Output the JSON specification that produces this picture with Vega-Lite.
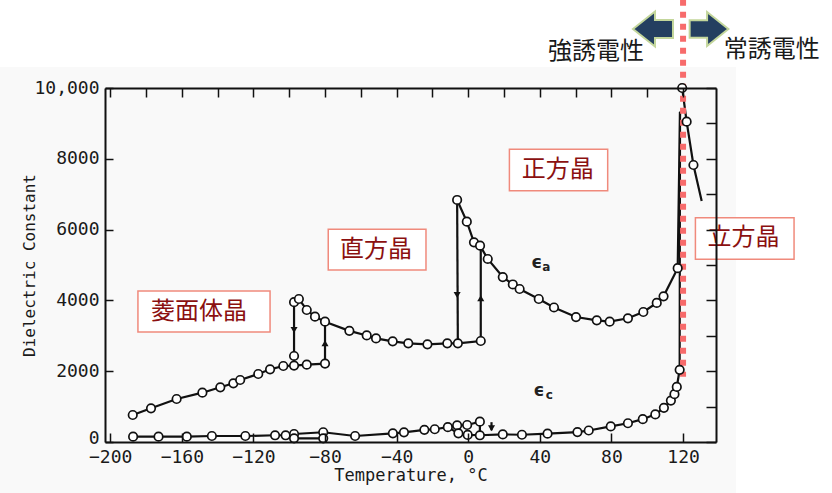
{
  "$schema": "https://vega.github.io/schema/vega-lite/v6.json",
  "width": 611,
  "height": 354,
  "autosize": "none",
  "padding": {"left": 105, "top": 88, "right": 116, "bottom": 51},
  "background": "white",
  "config": {"view": {"stroke": null}},
  "datasets": {
    "curves": [
      {"s":"a_rh","i":1,"t":-187.4,"v":763,"m":1},
      {"s":"a_rh","i":2,"t":-177.2,"v":952,"m":1},
      {"s":"a_rh","i":3,"t":-162.9,"v":1215,"m":1},
      {"s":"a_rh","i":4,"t":-148.5,"v":1393,"m":1},
      {"s":"a_rh","i":5,"t":-138.5,"v":1545,"m":1},
      {"s":"a_rh","i":6,"t":-131.2,"v":1658,"m":1},
      {"s":"a_rh","i":7,"t":-127.4,"v":1751,"m":1},
      {"s":"a_rh","i":8,"t":-117.3,"v":1921,"m":1},
      {"s":"a_rh","i":9,"t":-110.7,"v":2053,"m":1},
      {"s":"a_rh","i":10,"t":-103.3,"v":2147,"m":1},
      {"s":"a_rh","i":11,"t":-97.3,"v":2160,"m":1},
      {"s":"a_rh","i":12,"t":-90.2,"v":2185,"m":1},
      {"s":"a_rh","i":13,"t":-80,"v":2215,"m":1},
      {"s":"a_rh","i":14,"t":-80,"v":3399,"m":0},
      {"s":"a_dn1","i":1,"t":-97.3,"v":3950,"m":0},
      {"s":"a_dn1","i":2,"t":-97.3,"v":2430,"m":1},
      {"s":"a_dn1","i":3,"t":-97.3,"v":2160,"m":0},
      {"s":"a_or","i":1,"t":-97.3,"v":3950,"m":1},
      {"s":"a_or","i":2,"t":-94.6,"v":4040,"m":1},
      {"s":"a_or","i":3,"t":-90.2,"v":3729,"m":1},
      {"s":"a_or","i":4,"t":-85.6,"v":3540,"m":1},
      {"s":"a_or","i":5,"t":-80,"v":3399,"m":1},
      {"s":"a_or","i":6,"t":-66.4,"v":3140,"m":1},
      {"s":"a_or","i":7,"t":-56.7,"v":3010,"m":1},
      {"s":"a_or","i":8,"t":-51.5,"v":2925,"m":1},
      {"s":"a_or","i":9,"t":-42.2,"v":2845,"m":1},
      {"s":"a_or","i":10,"t":-33.5,"v":2788,"m":1},
      {"s":"a_or","i":11,"t":-22.8,"v":2759,"m":1},
      {"s":"a_or","i":12,"t":-11.7,"v":2788,"m":1},
      {"s":"a_or","i":13,"t":-5.8,"v":2788,"m":1},
      {"s":"a_or","i":14,"t":7.0,"v":2853,"m":1},
      {"s":"a_or","i":15,"t":7.0,"v":5546,"m":0},
      {"s":"a_dn2","i":1,"t":-6.2,"v":6837,"m":0},
      {"s":"a_dn2","i":2,"t":-5.8,"v":2788,"m":0},
      {"s":"a_te","i":1,"t":-6.2,"v":6837,"m":1},
      {"s":"a_te","i":2,"t":-0.8,"v":6224,"m":1},
      {"s":"a_te","i":3,"t":3.2,"v":5641,"m":1},
      {"s":"a_te","i":4,"t":6.6,"v":5546,"m":1},
      {"s":"a_te","i":5,"t":10.9,"v":5170,"m":1},
      {"s":"a_te","i":6,"t":19.3,"v":4660,"m":1},
      {"s":"a_te","i":7,"t":24.9,"v":4450,"m":1},
      {"s":"a_te","i":8,"t":28.7,"v":4322,"m":1},
      {"s":"a_te","i":9,"t":39.4,"v":4040,"m":1},
      {"s":"a_te","i":10,"t":47.9,"v":3800,"m":1},
      {"s":"a_te","i":11,"t":60.2,"v":3530,"m":1},
      {"s":"a_te","i":12,"t":71.8,"v":3437,"m":1},
      {"s":"a_te","i":13,"t":79,"v":3399,"m":1},
      {"s":"a_te","i":14,"t":89.2,"v":3494,"m":1},
      {"s":"a_te","i":15,"t":97.8,"v":3672,"m":1},
      {"s":"a_te","i":16,"t":105.3,"v":3930,"m":1},
      {"s":"a_te","i":17,"t":109.1,"v":4115,"m":1},
      {"s":"a_te","i":18,"t":117,"v":4910,"m":1},
      {"s":"a_te","i":19,"t":118.3,"v":9330,"m":0},
      {"s":"cub","i":1,"t":119.5,"v":10000,"m":1},
      {"s":"cub","i":2,"t":122,"v":9048,"m":1},
      {"s":"cub","i":3,"t":125.8,"v":7825,"m":1},
      {"s":"cub","i":4,"t":130.4,"v":6808,"m":0},
      {"s":"c_main","i":1,"t":-187.2,"v":150,"m":1},
      {"s":"c_main","i":2,"t":-173,"v":150,"m":1},
      {"s":"c_main","i":3,"t":-157.2,"v":150,"m":1},
      {"s":"c_main","i":4,"t":-143.2,"v":170,"m":1},
      {"s":"c_main","i":5,"t":-124.5,"v":170,"m":1},
      {"s":"c_main","i":6,"t":-107.9,"v":190,"m":1},
      {"s":"c_main","i":7,"t":-102,"v":190,"m":1},
      {"s":"c_main","i":8,"t":-97.3,"v":226,"m":1},
      {"s":"c_main","i":9,"t":-81,"v":275,"m":1},
      {"s":"c_main","i":10,"t":-63.2,"v":170,"m":1},
      {"s":"c_main","i":11,"t":-42.1,"v":245,"m":1},
      {"s":"c_main","i":12,"t":-35.9,"v":273,"m":1},
      {"s":"c_main","i":13,"t":-24.5,"v":345,"m":1},
      {"s":"c_main","i":14,"t":-18.7,"v":360,"m":1},
      {"s":"c_main","i":15,"t":-11.4,"v":420,"m":1},
      {"s":"c_main","i":16,"t":-6.2,"v":470,"m":1},
      {"s":"c_main","i":17,"t":-0.6,"v":480,"m":1},
      {"s":"c_main","i":18,"t":6.5,"v":575,"m":1},
      {"s":"c_main","i":19,"t":6.5,"v":190,"m":0},
      {"s":"c_loop","i":1,"t":-97.3,"v":226,"m":0},
      {"s":"c_loop","i":2,"t":-97.3,"v":105,"m":1},
      {"s":"c_loop","i":3,"t":-81,"v":105,"m":1},
      {"s":"c_loop","i":4,"t":-81,"v":275,"m":0},
      {"s":"c_low","i":1,"t":-11.4,"v":420,"m":0},
      {"s":"c_low","i":2,"t":-5.5,"v":245,"m":1},
      {"s":"c_low","i":3,"t":-0.3,"v":200,"m":1},
      {"s":"c_low","i":4,"t":6.5,"v":190,"m":1},
      {"s":"c_low","i":5,"t":19.3,"v":215,"m":1},
      {"s":"c_low","i":6,"t":30,"v":205,"m":1},
      {"s":"c_low","i":7,"t":44.3,"v":235,"m":1},
      {"s":"c_low","i":8,"t":61,"v":280,"m":1},
      {"s":"c_low","i":9,"t":67.3,"v":325,"m":1},
      {"s":"c_low","i":10,"t":79.6,"v":440,"m":1},
      {"s":"c_low","i":11,"t":89.2,"v":530,"m":1},
      {"s":"c_low","i":12,"t":97.5,"v":645,"m":1},
      {"s":"c_low","i":13,"t":104.5,"v":780,"m":1},
      {"s":"c_low","i":14,"t":109.3,"v":965,"m":1},
      {"s":"c_low","i":15,"t":113.2,"v":1170,"m":1},
      {"s":"c_low","i":16,"t":115.2,"v":1350,"m":1},
      {"s":"c_low","i":17,"t":116.5,"v":1555,"m":1},
      {"s":"c_low","i":18,"t":118.1,"v":2040,"m":1},
      {"s":"c_low","i":19,"t":118.3,"v":9330,"m":0},
      {"s":"c_arr","i":1,"t":13,"v":560,"m":0},
      {"s":"c_arr","i":2,"t":13,"v":330,"m":0}
    ],
    "heads": [
      {"t":-97.3,"v":3164,"dir":"down"},
      {"t":-80,"v":2788,"dir":"up"},
      {"t":-6.2,"v":4153,"dir":"down"},
      {"t":7.0,"v":4059,"dir":"up"},
      {"t":13,"v":390,"dir":"down"}
    ],
    "boxes": [
      {"label":"菱面体晶","x1":-184.5,"x2":-110.7,"y1":3108,"y2":4266,"tx":-150.4,"ty":3673},
      {"label":"直方晶","x1":-78.2,"x2":-23.6,"y1":4859,"y2":6009,"tx":-51.5,"ty":5424},
      {"label":"正方晶","x1":23.0,"x2":77.9,"y1":7099,"y2":8269,"tx":50.0,"ty":7684},
      {"label":"立方晶","x1":126.9,"x2":182.0,"y1":5161,"y2":6337,"tx":153.7,"ty":5749}
    ],
    "eps": [
      {"txt":"ϵ","t":38.3,"v":5043,"k":"big"},
      {"txt":"a","t":43.6,"v":4930,"k":"sub"},
      {"txt":"ϵ","t":39.5,"v":1432,"k":"big"},
      {"txt":"c","t":45.3,"v":1328,"k":"sub"}
    ],
    "top": [
      {"txt":"強誘電性","t":71.3,"v":11003},
      {"txt":"常誘電性","t":169.6,"v":11060}
    ]
  },
  "resolve": {"axis": {"x": "independent", "y": "independent"}},
  "layer": [
    {
      "layer": [
        {
          "data": {"values": [{"x1": -262, "x2": 149.6, "y1": -1441, "y2": 10594}]},
          "mark": {"type": "rect", "fill": "#f9f9f9", "stroke": null},
          "encoding": {
            "x": {"field": "x1", "type": "quantitative", "scale": {"domain": [-202.9, 138.4], "nice": false, "zero": false},
              "axis": {"values": [-200,-180,-160,-140,-120,-100,-80,-60,-40,-20,0,20,40,60,80,100,120],
                "labelExpr": "datum.value % 40 == 0 ? format(datum.value, 'd') : ''",
                "tickSize": -9, "tickWidth": 1.5, "tickColor": "#111", "domainColor": "#111", "domainWidth": 2,
                "labelFont": "DejaVu Sans Mono", "labelFontSize": 18, "labelColor": "#1a1a1a", "labelPadding": 15,
                "labelFlush": false, "labelOverlap": false, "grid": false,
                "title": "Temperature, °C", "titleFont": "DejaVu Sans Mono", "titleFontSize": 17, "titleFontWeight": "normal",
                "titleColor": "#1a1a1a", "titlePadding": 1, "zindex": 1}},
            "x2": {"field": "x2"},
            "y": {"field": "y1", "type": "quantitative", "scale": {"domain": [0, 10000], "nice": false, "zero": false},
              "axis": {"values": [0,1000,2000,3000,4000,5000,6000,7000,8000,9000,10000],
                "labelExpr": "datum.value % 2000 == 0 ? (datum.value == 10000 ? '10,000' : format(datum.value, 'd')) : ''",
                "labelOffset": {"condition": {"test": "datum.value == 0", "value": -4}, "value": 0},
                "tickSize": -8, "tickWidth": 1.5, "tickColor": "#111", "domainColor": "#111", "domainWidth": 2,
                "labelFont": "DejaVu Sans Mono", "labelFontSize": 18, "labelColor": "#1a1a1a", "labelPadding": 14,
                "labelFlush": false, "labelOverlap": false, "grid": false,
                "title": "Dielectric Constant", "titleFont": "DejaVu Sans Mono", "titleFontSize": 16, "titleFontWeight": "normal",
                "titleColor": "#1a1a1a", "titlePadding": -4, "zindex": 1}},
            "y2": {"field": "y2"}
          }
        },
        {
          "data": {"name": "curves"},
          "mark": {"type": "line", "color": "#111", "strokeWidth": 2.2},
          "encoding": {
            "x": {"field": "t", "type": "quantitative"},
            "y": {"field": "v", "type": "quantitative"},
            "detail": {"field": "s"},
            "order": {"field": "i", "type": "quantitative"}
          }
        },
        {
          "data": {"values": [{"t": 120, "v1": 12490, "v2": 1840}]},
          "mark": {"type": "rule", "color": "#f76b6b", "strokeWidth": 6, "strokeDash": [6, 6], "strokeCap": "butt"},
          "encoding": {
            "x": {"field": "t", "type": "quantitative"},
            "y": {"field": "v1", "type": "quantitative"},
            "y2": {"field": "v2"}
          }
        },
        {
          "data": {"name": "curves"},
          "transform": [{"filter": "datum.m == 1"}],
          "mark": {"type": "point", "shape": "circle", "filled": true, "fill": "white", "stroke": "#111", "strokeWidth": 1.7, "size": 72, "opacity": 1},
          "encoding": {
            "x": {"field": "t", "type": "quantitative"},
            "y": {"field": "v", "type": "quantitative"}
          }
        },
        {
          "data": {"name": "heads"},
          "mark": {"type": "point", "filled": true, "color": "#111", "size": 50, "opacity": 1},
          "encoding": {
            "x": {"field": "t", "type": "quantitative"},
            "y": {"field": "v", "type": "quantitative"},
            "shape": {"field": "dir", "type": "nominal", "scale": {"domain": ["down", "up"], "range": ["triangle-down", "triangle-up"]}, "legend": null}
          }
        },
        {
          "data": {"name": "boxes"},
          "mark": {"type": "rect", "fill": "white", "stroke": "#f08a7c", "strokeWidth": 1.5},
          "encoding": {
            "x": {"field": "x1", "type": "quantitative"},
            "x2": {"field": "x2"},
            "y": {"field": "y1", "type": "quantitative"},
            "y2": {"field": "y2"}
          }
        },
        {
          "data": {"name": "boxes"},
          "mark": {"type": "text", "font": "Noto Sans CJK JP", "fontSize": 24, "color": "#8b1010", "align": "center", "baseline": "middle"},
          "encoding": {
            "x": {"field": "tx", "type": "quantitative"},
            "y": {"field": "ty", "type": "quantitative"},
            "text": {"field": "label"}
          }
        },
        {
          "data": {"name": "eps"},
          "mark": {"type": "text", "font": "DejaVu Sans", "fontWeight": "bold", "color": "#222", "align": "center", "baseline": "middle"},
          "encoding": {
            "x": {"field": "t", "type": "quantitative"},
            "y": {"field": "v", "type": "quantitative"},
            "text": {"field": "txt"},
            "size": {"field": "k", "type": "nominal", "scale": {"domain": ["big", "sub"], "range": [17, 12]}, "legend": null}
          }
        },
        {
          "data": {"name": "top"},
          "mark": {"type": "text", "font": "Noto Sans CJK JP", "fontSize": 24, "color": "#1a1a1a", "align": "center", "baseline": "middle"},
          "encoding": {
            "x": {"field": "t", "type": "quantitative"},
            "y": {"field": "v", "type": "quantitative"},
            "text": {"field": "txt"}
          }
        },
        {
          "data": {"values": [{"t": 103.2, "v": 11667}]},
          "mark": {"type": "point", "shape": "M -1 0 L 0.1 -0.875 L 0.1 -0.45 L 1 -0.45 L 1 0.45 L 0.1 0.45 L 0.1 0.875 Z", "size": 1600, "filled": true, "fill": "#243f60", "stroke": "#c3d69b", "strokeWidth": 2, "opacity": 1},
          "encoding": {
            "x": {"field": "t", "type": "quantitative"},
            "y": {"field": "v", "type": "quantitative"}
          }
        },
        {
          "data": {"values": [{"t": 134.5, "v": 11667}]},
          "mark": {"type": "point", "shape": "M 1 0 L -0.1 -0.875 L -0.1 -0.45 L -1 -0.45 L -1 0.45 L -0.1 0.45 L -0.1 0.875 Z", "size": 1500, "filled": true, "fill": "#243f60", "stroke": "#c3d69b", "strokeWidth": 2, "opacity": 1},
          "encoding": {
            "x": {"field": "t", "type": "quantitative"},
            "y": {"field": "v", "type": "quantitative"}
          }
        }
      ]
    },
    {
      "data": {"values": [{"t": 0, "v": 0}]},
      "mark": {"type": "point", "opacity": 0},
      "encoding": {
        "x": {"field": "t", "type": "quantitative", "scale": {"domain": [-202.9, 138.4], "nice": false, "zero": false},
          "axis": {"orient": "top", "values": [-200,-180,-160,-140,-120,-100,-80,-60,-40,-20,0,20,40,60,80,100,120],
            "labels": false, "title": null, "tickSize": -9, "tickWidth": 1.5, "tickColor": "#111", "domainColor": "#111", "domainWidth": 2, "grid": false, "zindex": 1}},
        "y": {"field": "v", "type": "quantitative", "scale": {"domain": [0, 10000], "nice": false, "zero": false},
          "axis": {"orient": "right", "values": [0,1000,2000,3000,4000,5000,6000,7000,8000,9000,10000],
            "labels": false, "title": null, "tickSize": -10, "tickWidth": 1.5, "tickColor": "#111", "domainColor": "#111", "domainWidth": 2, "grid": false, "zindex": 1}}
      }
    }
  ]
}
